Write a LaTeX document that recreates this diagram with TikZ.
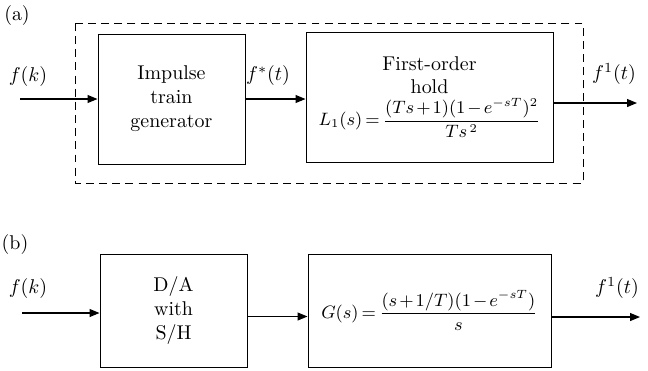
\documentclass[tikz,border=0pt]{standalone}
\usepackage{amsmath}
\usetikzlibrary{arrows.meta, positioning, calc}
\newcommand{\tightmath}{\thickmuskip=3mu\medmuskip=2mu}
\tikzset{
  every picture/.style={line width=0.5pt},
  box/.style={draw, align=center, inner sep=2pt, font=\normalsize},
  arrow/.style={-{Triangle[length=5pt, width=4pt]}, line width=0.55pt},
  sig/.style={font=\normalsize},
  tag/.style={font=\normalsize},
  frame/.style={dash pattern=on 4pt off 2.6pt, line width=0.5pt},
}

\begin{document}
\begin{tikzpicture}[x=0.5bp, y=-0.5bp]
  \useasboundingbox (0,0) rectangle (648,370);

  % (a) impulse train generator with first-order hold
  \node[tag] (taga) at (17,16) {(a)};
  \draw[frame] (75,23) rectangle (583,183);
  \node[box, minimum width=73.5bp, minimum height=65bp] (imp) at (171.5,99) {Impulse\\train\\generator};
  \node[box, minimum width=123.5bp, minimum height=65bp] (foh) at (429.5,97)
    {First-order\\hold\\[1pt] {\small\tightmath $L_1(s)=\dfrac{(Ts+1)(1-e^{-sT})^2}{Ts^{\,2}}$}};
  \coordinate (ina) at (20,99);
  \coordinate (outa) at (637,103);
  \draw[arrow] (ina) -- (imp.west);
  \draw[arrow] (imp.east) -- (imp.east -| foh.west);
  \draw[arrow] (foh.east |- outa) -- (outa);
  \node[sig] (fka) at (28,77) {$f(k)$};
  \node[sig] (fsa) at (268,76) {$f^{*}(t)$};
  \node[sig] (f1a) at (614,74) {$f^{1}(t)$};

  % (b) D/A with sample-and-hold
  \node[tag] (tagb) at (15,245) {(b)};
  \node[box, minimum width=73.5bp, minimum height=56.5bp] (dah) at (173.5,310.5) {D/A\\with\\S/H};
  \node[box, minimum width=121.5bp, minimum height=56.5bp] (gs) at (429.5,310.5)
    {\small\tightmath $G(s)=\dfrac{(s+1/T)(1-e^{-sT})}{s}$};
  \coordinate (inb) at (22,313);
  \coordinate (outb) at (640,317);
  \draw[arrow] (inb) -- (dah.west |- inb);
  \draw[arrow] ($(dah.east)+(0,6)$) -- ($(gs.west)+(0,6)$);
  \draw[arrow] (gs.east |- outb) -- (outb);
  \node[sig] (fkb) at (28,289) {$f(k)$};
  \node[sig] (f1b) at (617,288) {$f^{1}(t)$};
\end{tikzpicture}
\end{document}
